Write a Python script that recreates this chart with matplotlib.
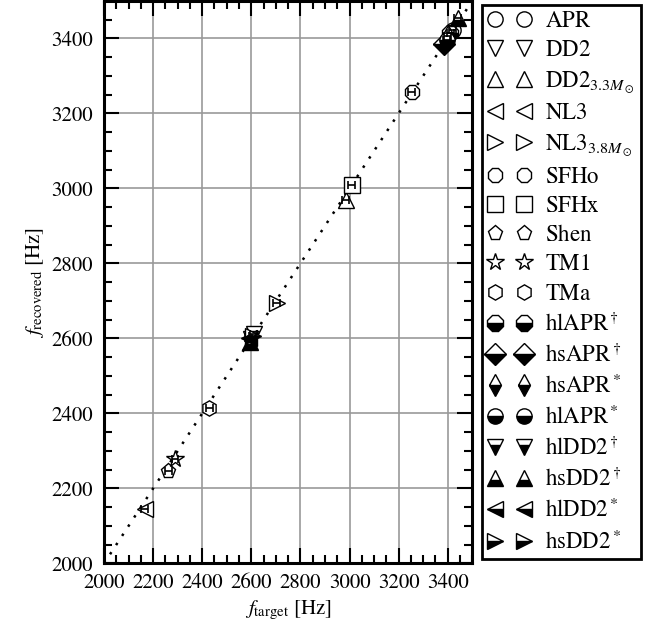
import numpy as np
import matplotlib
matplotlib.use("Agg")
import matplotlib.pyplot as plt
from matplotlib.lines import Line2D

plt.rcParams["font.family"] = ["STIXGeneral", "DejaVu Serif"]
plt.rcParams["mathtext.fontset"] = "stix"
plt.rcParams["font.size"] = 15

# equation of state labels, marker shapes, half-filled flag
EOS_LABELS = [
    r"$\mathrm{APR}$", r"$\mathrm{DD2}$", r"$\mathrm{DD2}_{3.3M_\odot}$", r"$\mathrm{NL3}$",
    r"$\mathrm{NL3}_{3.8M_\odot}$", r"$\mathrm{SFHo}$", r"$\mathrm{SFHx}$", r"$\mathrm{Shen}$",
    r"$\mathrm{TM1}$", r"$\mathrm{TMa}$",
    r"$\mathrm{hlAPR}^\dagger$", r"$\mathrm{hsAPR}^\dagger$", r"$\mathrm{hsAPR}^*$",
    r"$\mathrm{hlAPR}^*$", r"$\mathrm{hlDD2}^\dagger$", r"$\mathrm{hsDD2}^\dagger$",
    r"$\mathrm{hlDD2}^*$", r"$\mathrm{hsDD2}^*$",
]
EOS_MARKERS = ["o", "v", "^", "<", ">", "8", "s", "p", "*", "h",
               "8", "D", "d", "o", "v", "^", "<", ">"]
EOS_HYBRID = [False] * 10 + [True] * 8

# peak frequencies [Hz]
F_TARGET = [
    [3420], [2610], [2984], [2165], [2703],
    [3253], [3009], [2262], [2289], [2428],
    [3410], [3385], [3400], [3395],
    [2600], [2595, 3440], [2590], [2605],
]
F_RECOVERED = [
    [3422], [2612], [2969], [2145], [2694],
    [3258], [3009], [2247], [2278], [2414],
    [3413], [3385], [3405], [3396],
    [2598], [2590, 3455], [2600], [2606],
]
F_ERR = 14

fig = plt.figure(figsize=(6.65, 6.31), dpi=100)
ax = fig.add_axes([0.1564, 0.107, 0.5538, 0.8917])

diag = np.array([2000, 3500])
ax.plot(diag, diag, color="black", lw=1.8, linestyle=(0, (1, 3.4)), zorder=2)

handles = []
for lab, mk, hyb, ft, fr in zip(EOS_LABELS, EOS_MARKERS, EOS_HYBRID, F_TARGET, F_RECOVERED):
    style = dict(marker=mk, markersize=11 if mk != "*" else 13, markeredgecolor="black",
                 markeredgewidth=1.0, color="black", linestyle="none")
    if hyb:
        style.update(markerfacecolor="black", markerfacecoloralt="white", fillstyle="bottom")
    else:
        style.update(markerfacecolor="white")
    ax.plot(ft, fr, zorder=3, **style)
    ax.errorbar(ft, fr, xerr=F_ERR, fmt="none", ecolor="black", elinewidth=1.2,
                capsize=3, capthick=1.2, zorder=4)
    handles.append(Line2D([], [], label=lab, **style))

ax.set_xlim(2000, 3500)
ax.set_ylim(2000, 3500)
ax.set_xticks(np.arange(2000, 3401, 200))
ax.set_yticks(np.arange(2000, 3401, 200))
ax.set_xticks(np.arange(2000, 3501, 50), minor=True)
ax.set_yticks(np.arange(2000, 3501, 50), minor=True)
ax.tick_params(which="both", direction="in", top=True, right=True, width=1.5, labelsize=15)
ax.tick_params(which="major", length=11)
ax.tick_params(which="minor", length=6)
ax.tick_params(axis="x", which="major", pad=7)
ax.tick_params(axis="y", which="major", pad=8)
ax.grid(which="major", color="#999999", lw=1.2, zorder=0)
for s in ax.spines.values():
    s.set_linewidth(2.2)

ax.set_xlabel(r"$f_\mathrm{target}$ [Hz]", fontsize=15, labelpad=4)
ax.set_ylabel(r"$f_\mathrm{recovered}$ [Hz]", fontsize=15, labelpad=4)

leg = fig.legend(handles=handles, loc="upper left", bbox_to_anchor=(482 / 665, 1 - 5 / 631),
                 numpoints=2, handlelength=1.9, handletextpad=0.6, labelspacing=0.345,
                 borderpad=0.25, borderaxespad=0, fancybox=False, edgecolor="black",
                 framealpha=1, fontsize=16.5)
leg.get_frame().set_linewidth(2.0)

fig.savefig("out.png", dpi=100)
